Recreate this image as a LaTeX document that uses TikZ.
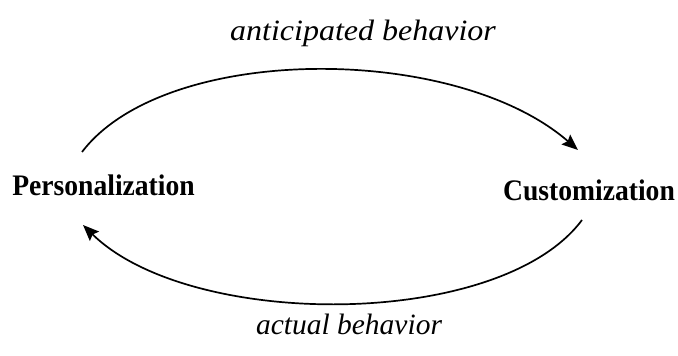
\documentclass[tikz,border=0pt]{standalone}
\usepackage{fontspec}
\setmainfont{Liberation Serif}
\usetikzlibrary{arrows.meta}
\tikzset{
  term/.style={font=\fontsize{27.6}{32}\selectfont\bfseries, inner sep=0pt, anchor=base},
  lab/.style={font=\fontsize{29.5}{33}\selectfont\itshape, inner sep=0pt, anchor=base},
  flow/.style={line width=1.7pt, -{Stealth[length=16pt,width=13pt,inset=2.5pt]}}
}
\begin{document}
\begin{tikzpicture}[x=1pt,y=1pt]
\useasboundingbox (0,0) rectangle (678,356);
\node[term] (p) at (103.5,160) {\scalebox{1}[1.08]{Personalization}};
\node[term] (c) at (589,155) {\scalebox{1}[1.08]{Customization}};
\node[lab] (l1) at (363,315) {\scalebox{1.085}[1]{anticipated behavior}};
\node[lab] (l2) at (349,21) {actual behavior};
\coordinate (u0) at (82,204);
\coordinate (u1) at (578,206);
\coordinate (d0) at (582,136);
\coordinate (d1) at (83,131);
\draw[flow] (u0) .. controls (165,313) and (455,313) .. (u1);
\draw[flow] (d0) .. controls (500,26) and (190,26) .. (d1);
\end{tikzpicture}
\end{document}
